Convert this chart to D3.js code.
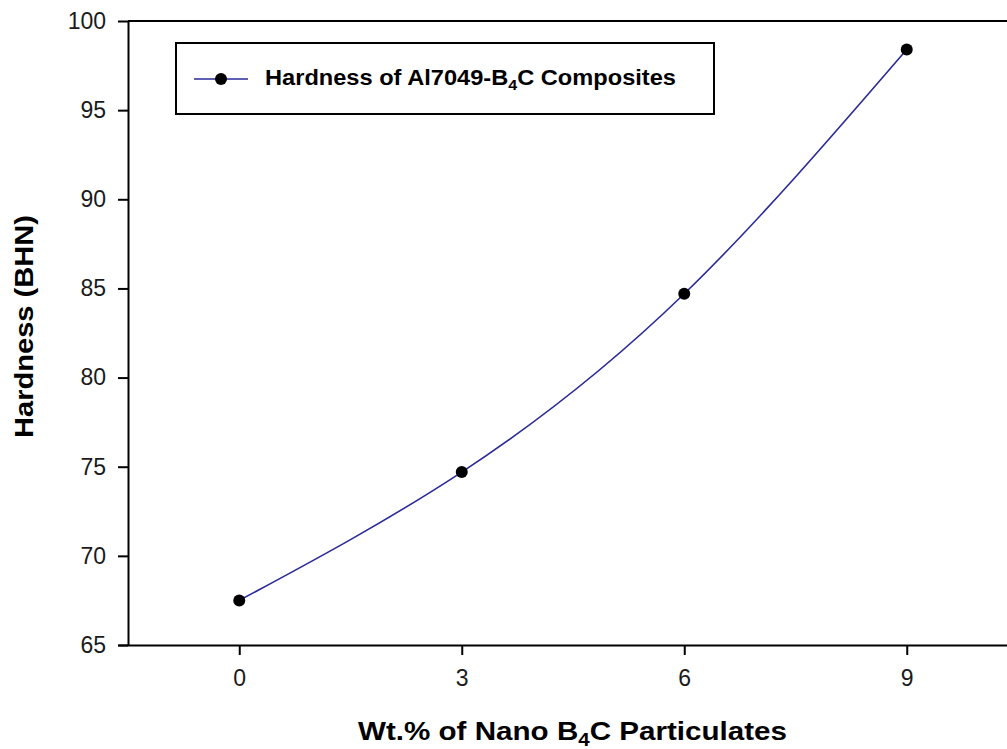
<!DOCTYPE html>
<html>
<head>
<meta charset="utf-8">
<script src="https://cdn.jsdelivr.net/npm/d3@7"></script>
<style>
  body { margin: 0; background: #fff; }
  svg { display: block; font-family: "Liberation Sans", Arial, sans-serif; }
  .tick text { font-size: 23px; fill: #1a1a1a; }
  .axis-title { font-size: 26px; font-weight: bold; fill: #000; }
  .legend-text { font-size: 22px; font-weight: bold; fill: #000; }
</style>
</head>
<body>
<svg id="chart"></svg>
<script>
const wtPercent = [0, 3, 6, 9];
const hardness = [67.5, 74.7, 84.7, 98.4];
const xTicks = [0, 3, 6, 9];
const yTicks = [65, 70, 75, 80, 85, 90, 95, 100];
const seriesName = "Hardness of Al7049-B";

const width = 1007;
const height = 749;
const plotLeft = 128, plotTop = 21, plotBottom = 645, plotRight = 1018;

const svg = d3.select("#chart").attr("width", width).attr("height", height);

const sx = d3.scaleLinear().domain([-1.5, 10.5]).range([plotLeft, plotRight]);
const sy = d3.scaleLinear().domain([65, 100]).range([plotBottom, plotTop]);

// frame top and right
svg.append("line")
  .attr("x1", plotLeft).attr("x2", plotRight).attr("y1", plotTop).attr("y2", plotTop)
  .attr("stroke", "#000").attr("stroke-width", 2);
svg.append("line")
  .attr("x1", plotRight).attr("x2", plotRight).attr("y1", plotTop).attr("y2", plotBottom)
  .attr("stroke", "#000").attr("stroke-width", 2);

const xAxis = svg.append("g")
  .attr("transform", `translate(0,${plotBottom})`)
  .call(d3.axisBottom(sx).tickValues(xTicks).tickSize(10).tickPadding(15).tickSizeOuter(0));

const yAxis = svg.append("g")
  .attr("transform", `translate(${plotLeft},0)`)
  .call(d3.axisLeft(sy).tickValues(yTicks).tickSize(10).tickPadding(12).tickSizeOuter(0));

[xAxis, yAxis].forEach(function (g) {
  g.selectAll(".domain").attr("stroke", "#000").attr("stroke-width", 2);
  g.selectAll(".tick line").attr("stroke", "#000").attr("stroke-width", 2);
  g.selectAll(".tick text").attr("font-family", null).attr("font-size", null);
});
xAxis.selectAll(".domain").attr("d", `M${plotLeft - 10},0.5H${plotRight}`);

const line = d3.line()
  .x(function (d, i) { return sx(wtPercent[i]); })
  .y(function (d) { return sy(d); })
  .curve(d3.curveNatural);

svg.append("path")
  .datum(hardness)
  .attr("d", line)
  .attr("fill", "none")
  .attr("stroke", "#2a2a9a")
  .attr("stroke-width", 1.6);

svg.selectAll("circle.pt")
  .data(hardness)
  .enter()
  .append("circle")
  .classed("pt", true)
  .attr("cx", function (d, i) { return sx(wtPercent[i]); })
  .attr("cy", function (d) { return sy(d); })
  .attr("r", 6)
  .attr("fill", "#000");

// legend
const legend = svg.append("g");
legend.append("rect")
  .attr("x", 176).attr("y", 43).attr("width", 538).attr("height", 71)
  .attr("fill", "#fff").attr("stroke", "#000").attr("stroke-width", 2);
legend.append("line")
  .attr("x1", 194).attr("x2", 248).attr("y1", 79).attr("y2", 79)
  .attr("stroke", "#2a2a9a").attr("stroke-width", 1.6);
legend.append("circle")
  .attr("cx", 221).attr("cy", 79).attr("r", 6).attr("fill", "#000");
const lt = legend.append("text")
  .classed("legend-text", true)
  .attr("x", 265).attr("y", 85)
  .attr("textLength", 411).attr("lengthAdjust", "spacingAndGlyphs");
lt.append("tspan").text(seriesName);
lt.append("tspan").attr("dy", 5).attr("font-size", 15).text("4");
lt.append("tspan").attr("dy", -5).text("C Composites");

// axis titles
const xt = svg.append("text")
  .classed("axis-title", true)
  .attr("x", 358).attr("y", 740)
  .attr("textLength", 429).attr("lengthAdjust", "spacingAndGlyphs");
xt.append("tspan").text("Wt.% of Nano B");
xt.append("tspan").attr("dy", 6).attr("font-size", 18).text("4");
xt.append("tspan").attr("dy", -6).text("C Particulates");

svg.append("text")
  .classed("axis-title", true)
  .attr("transform", "translate(33,438) rotate(-90)")
  .attr("textLength", 223).attr("lengthAdjust", "spacingAndGlyphs")
  .text("Hardness (BHN)");
</script>
</body>
</html>
